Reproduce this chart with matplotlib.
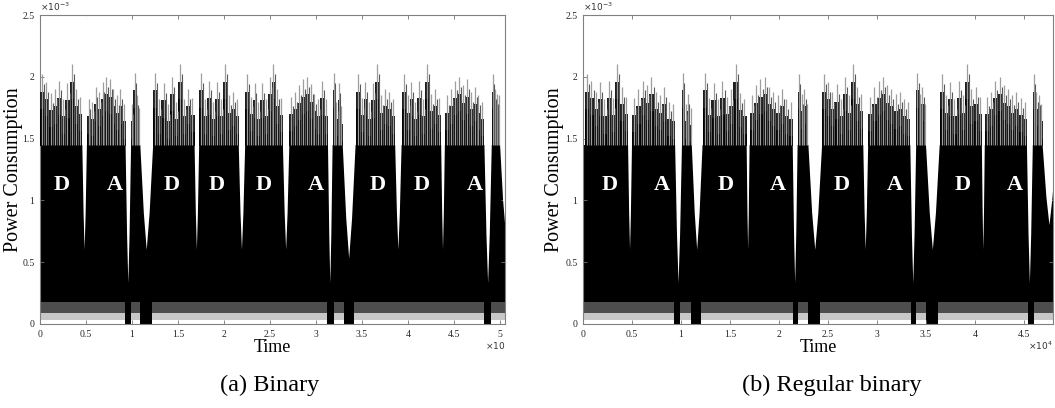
import numpy as np
import matplotlib.pyplot as plt
from matplotlib.patches import Polygon
from matplotlib.ticker import FuncFormatter, MultipleLocator

plt.rcParams['font.family'] = ['Liberation Serif', 'DejaVu Serif']

# ---------------- (a) Binary ----------------
bin_xmax = 50540
bin_start = [0, 5100, 9900, 12300, 17300, 22300, 27100, 31800, 34300, 39300, 44000, 49100]
bin_end = [4600, 9300, 10900, 16800, 21600, 26400, 31300, 32900, 38600, 43600, 48300, 50000]
# peak heights inside each segment (x1e-3)
bin_peaks = [
    [2.02, 1.96, 1.87, 1.90, 1.97, 1.82, 1.95, 2.10, 1.90, 1.84],
    [1.82, 1.80, 1.92, 1.88, 1.96, 2.00, 1.98, 1.90, 1.85, 1.90, 1.78],
    [1.78, 2.03, 1.85, 1.75],
    [2.03, 1.82, 1.95, 1.78, 2.00, 1.80, 2.10, 1.82, 1.90, 1.83],
    [2.03, 1.82, 1.97, 1.80, 1.96, 1.82, 2.10, 1.85, 1.88, 1.82],
    [2.02, 1.84, 1.95, 1.80, 1.95, 1.82, 2.00, 2.10, 1.90, 1.83],
    [1.84, 1.88, 1.93, 1.98, 2.00, 1.94, 1.86, 1.82, 1.97, 1.82],
    [2.03, 1.80, 1.95, 1.76],
    [2.02, 1.83, 1.96, 1.80, 1.95, 2.10, 1.85, 1.90, 1.88, 1.82],
    [2.02, 1.85, 1.96, 1.80, 1.97, 1.82, 2.10, 1.86, 1.90, 1.83],
    [1.85, 1.90, 1.97, 2.00, 1.93, 1.98, 1.88, 1.92, 1.85, 1.80],
    [2.02, 1.90, 1.86, 1.85],
]
# depth of the white notch after each segment (x1e-3); last one runs off the edge
bin_depth = [0.60, 0.33, 0.60, 0.60, 0.60, 0.60, 0.33, 0.53, 0.60, 0.60, 0.33, 0.76]
bin_tail = 51200
bin_dips = [(9200, 9900), (10900, 12200), (31200, 31900), (33000, 34100), (48300, 49000)]
bin_label_x = [2400, 8150, 14350, 19240, 24350, 30000, 36740, 41520, 47280]
bin_labels = ['D', 'A', 'D', 'D', 'D', 'A', 'D', 'D', 'A']

# ---------------- (b) Regular binary ----------------
reg_xmax = 47960
reg_start = [200, 5000, 10100, 12200, 17000, 21900, 24400, 29100, 34000, 36400, 41000, 45900]
reg_end = [4600, 9400, 11100, 16700, 21400, 23000, 28600, 33400, 35000, 40700, 45300, 46900]
reg_peaks = [
    [2.02, 1.97, 1.88, 1.96, 1.82, 1.97, 1.83, 2.10, 1.92, 1.84],
    [1.83, 1.90, 1.97, 1.93, 2.00, 1.88, 1.85, 1.92, 1.80, 1.78],
    [2.03, 1.78, 1.86, 1.75],
    [2.03, 1.83, 1.95, 1.82, 1.97, 1.84, 1.90, 2.10, 1.87, 1.82],
    [1.85, 1.93, 1.98, 2.00, 1.92, 1.88, 1.85, 1.90, 1.82, 1.80],
    [2.02, 1.86, 1.90, 1.78],
    [2.02, 1.96, 1.88, 1.94, 1.82, 2.00, 1.85, 2.10, 1.92, 1.86],
    [1.84, 1.92, 1.97, 2.00, 1.93, 1.90, 1.86, 1.88, 1.82, 1.80],
    [2.03, 1.86, 1.92, 1.78],
    [2.02, 1.85, 1.96, 1.82, 1.97, 1.85, 2.10, 1.90, 1.92, 1.84],
    [1.84, 1.88, 1.97, 2.00, 1.93, 1.90, 1.85, 1.88, 1.83, 1.80],
    [2.02, 1.88, 1.85, 1.78],
]
reg_depth = [0.60, 0.33, 0.60, 0.60, 0.33, 0.60, 0.60, 0.33, 0.60, 0.60, 0.33, 0.80]
reg_tail = 48300
reg_dips = [(9300, 9900), (11000, 12000), (21400, 21900), (23000, 24200),
            (33500, 34000), (35000, 36200), (45400, 46000)]
reg_label_x = [2760, 8000, 14600, 19900, 26400, 31800, 38700, 44100]
reg_labels = ['D', 'A', 'D', 'A', 'D', 'A', 'D', 'A']


def draw_trace(ax, starts, ends, peaks, depths, tail, dips, label_x, labels, xmax):
    floor, body = 0.18e-3, 1.45e-3
    ax.fill_between([0, xmax], 0.03e-3, 0.09e-3, color='0.78', lw=0)
    ax.fill_between([0, xmax], 0.09e-3, floor, color='0.3', lw=0)
    ax.fill_between([0, xmax], floor, body, color='black', lw=0)
    for d0, d1 in dips:
        ax.fill_between([d0, d1], 0.0, floor, color='black', lw=0)

    # white notches between segments
    nexts = list(starts[1:]) + [tail]
    for e, s, dep in zip(ends, nexts, depths):
        c = 0.5 * (e + s)
        dep = dep * 1e-3
        mid = dep + 0.35 * (body - dep)
        verts = [(e, 2.5e-3), (e, body), (e + 0.55 * (c - e), mid), (c, dep),
                 (s - 0.55 * (s - c), mid), (s, body), (s, 2.5e-3)]
        ax.add_patch(Polygon(verts, closed=True, fc='white', ec='none', zorder=2))

    for s, e, pk in zip(starts, ends, peaks):
        pk = np.array(pk) * 1e-3
        pos = np.linspace(s, e, len(pk) + 1)[:-1] + (e - s) / (2 * len(pk))
        edges = np.linspace(s, e, len(pk) + 1)
        # ragged dark body under the peaks
        ax.stairs(pk - 0.14e-3, edges, baseline=body - 0.01e-3, fill=True,
                  color='0.12', lw=0, zorder=3)
        ax.stairs(pk - 0.28e-3, edges, baseline=body - 0.01e-3, fill=True,
                  color='black', lw=0, zorder=3)
        ax.vlines(pos, body, pk, colors='0.62', lw=0.9, zorder=4)
        ax.vlines(edges[1:-1], body, pk[:-1] - 0.08e-3, colors='0.35', lw=0.8, zorder=4)

    for lx, lb in zip(label_x, labels):
        ax.text(lx, 1.125e-3, lb, color='white', fontsize=16, fontweight='bold',
                ha='center', va='center', zorder=5)


def style_axes(ax, xmax, xlabel_note, ylab_x):
    ax.set_xlim(0, xmax)
    ax.set_ylim(0, 2.5e-3)
    ax.xaxis.set_major_locator(MultipleLocator(5000))
    ax.yaxis.set_major_locator(MultipleLocator(0.5e-3))
    ax.xaxis.set_major_formatter(FuncFormatter(lambda v, p: '%g' % (v / 1e4)))
    ax.yaxis.set_major_formatter(FuncFormatter(lambda v, p: '%g' % (v / 1e-3)))
    ax.tick_params(direction='in', length=3, width=0.6, labelsize=7,
                   top=True, right=True, colors='0.45', labelcolor='0.15', pad=4)
    for sp in ax.spines.values():
        sp.set_color('0.5')
        sp.set_linewidth(0.8)
    ax.set_xlabel('Time', fontsize=13, labelpad=0)
    ax.set_ylabel('Power Consumption', fontsize=14.5)
    ax.yaxis.set_label_coords(ylab_x, 0.5)
    ax.text(0.0, 1.005, r'$\times10^{-3}$', transform=ax.transAxes, fontsize=6.5,
            ha='left', va='bottom', color='0.2')
    ax.text(1.0, -0.052, xlabel_note, transform=ax.transAxes, fontsize=6.5,
            ha='right', va='top', color='0.2')


fig = plt.figure(figsize=(10.55, 4.08), dpi=100)
ax1 = fig.add_axes([0.0379, 0.2059, 0.4408, 0.7573])
ax2 = fig.add_axes([0.5526, 0.2059, 0.4455, 0.7573])

draw_trace(ax1, bin_start, bin_end, bin_peaks, bin_depth, bin_tail, bin_dips,
           bin_label_x, bin_labels, bin_xmax)
style_axes(ax1, bin_xmax, r'$\times10$', -0.037)

draw_trace(ax2, reg_start, reg_end, reg_peaks, reg_depth, reg_tail, reg_dips,
           reg_label_x, reg_labels, reg_xmax)
style_axes(ax2, reg_xmax, r'$\times10^{4}$', -0.04)

fig.text(0.256, 0.056, '(a) Binary', fontsize=17.5, ha='center', va='center')
fig.text(0.788, 0.056, '(b) Regular binary', fontsize=17.5, ha='center', va='center')

fig.savefig('out.png', dpi=100)
